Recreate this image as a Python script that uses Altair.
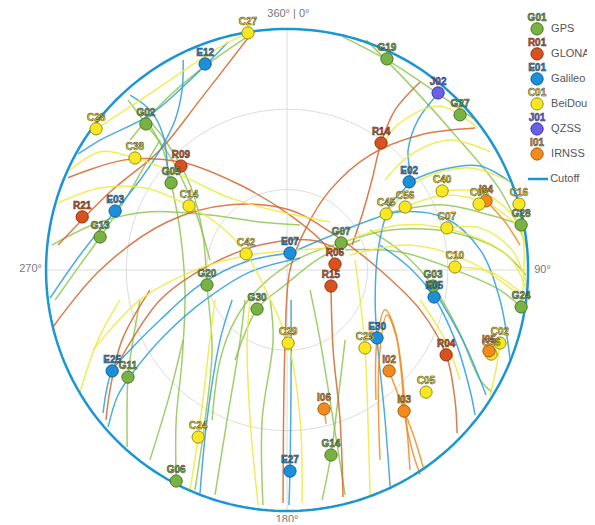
import altair as alt
import numpy as np
import pandas as pd

# ---------------- systems ----------------
SYSTEMS = ["GPS", "GLONASS", "Galileo", "BeiDou", "QZSS", "IRNSS"]
PREFIX = ["G", "R", "E", "C", "J", "I"]
LEGEND_IDS = ["G01", "R01", "E01", "C01", "J01", "I01"]
FILL = ["#77b243", "#d9521d", "#1c8fdb", "#f8e824", "#6b5fe6", "#f28b1c"]
EDGE = ["#4b7425", "#8a3210", "#0f5d94", "#9b8c12", "#3c319d", "#a6590b"]
TRACK = ["#8fc553", "#d4652b", "#2b9fd8", "#eeea3c", "#6b5fe6", "#f08c22"]
CUTOFF_COLOR = "#1a96d4"

# ---------------- satellites (east / north, degrees of zenith distance) ----------------
sat_id = ["E05", "I04", "C36",
          "G19", "G27", "G02", "G05", "G13", "G20", "G30", "G07", "G03", "G28", "G24", "G11", "G06", "G14",
          "R14", "R09", "R21", "R06", "R15", "R04",
          "E12", "E03", "E07", "E02", "E30", "E25", "E27",
          "C27", "C28", "C38", "C14", "C42", "C29", "C25", "C40", "C56", "C45", "C07", "C10", "C08", "C16",
          "C02", "C05", "C24",
          "J02",
          "I02", "I03", "I06", "I05"]
sat_east = [54.9, 74.3, 76.2,
            37.3, 64.6, -52.7, -43.3, -69.8, -29.9, -11.2, 20.2, 54.5, 87.4, 87.4, -59.4, -41.4, 16.4,
            35.1, -39.6, -76.5, 17.9, 16.4, 59.4,
            -30.6, -64.2, 1.1, 45.6, 33.6, -65.3, 1.1,
            -14.6, -71.3, -56.8, -36.6, -15.3, 0.4, 29.1, 57.9, 44.1, 37.0, 59.7, 62.7, 71.7, 86.6,
            79.5, 51.9, -33.2,
            56.4,
            38.1, 43.7, 13.8, 75.4]
sat_north = [-10.1, 25.8, -31.4,
             78.8, 57.9, 54.5, 32.5, 12.3, -5.6, -14.6, 10.1, -6.0, 16.8, -13.8, -40.0, -78.8, -69.1,
             47.4, 38.8, 19.8, 2.2, -6.0, -31.7,
             76.9, 22.0, 6.3, 32.9, -25.4, -37.7, -75.1,
             88.5, 52.7, 41.8, 23.9, 6.0, -27.3, -29.1, 29.5, 23.5, 20.9, 15.7, 1.1, 24.6, 24.6,
             -27.3, -45.6, -62.4,
             66.1,
             -37.7, -52.7, -51.9, -30.2]

# ---------------- tracks (east list, north list) ----------------
GPS_TRACKS = [
    ([20.9, 38.5, 57.1, 71.3], [87.0, 77.7, 65.3, 55.3]),
    ([29.5, 45.9, 62.7, 79.5, 88.5], [85.9, 69.1, 50.4, 29.9, 11.2]),
    ([-14.9, -32.5, -47.4, -58.6], [87.0, 74.7, 61.6, 48.5]),
    ([-51.2, -46.3, -43.3, -40.0, -38.1, -39.2, -41.4, -41.4], [54.1, 44.8, 32.5, 14.9, -7.5, -33.6, -56.0, -78.8]),
    ([-54.9, -45.6, -36.2, -31.4, -29.9, -28.0, -30.6, -34.4], [59.7, 48.5, 31.7, 13.1, -5.6, -29.9, -56.0, -82.2]),
    ([-86.6, -77.3, -69.8, -60.5, -53.0, -47.4], [-11.2, 1.9, 12.3, 26.1, 39.2, 48.5]),
    ([-87.8, -69.8, -51.2, -28.8, -10.1, 4.9], [9.3, 17.9, 21.7, 20.5, 17.9, 16.8]),
    ([20.2, 4.9, -9.3, -19.4, -25.0, -28.0], [10.1, 4.5, -5.6, -18.7, -33.6, -56.0]),
    ([20.2, 38.5, 60.9, 79.5, 89.2], [10.1, 14.9, 14.2, 7.5, -1.9]),
    ([-54.9, -57.5, -59.4, -59.7], [-11.2, -26.1, -40.0, -66.1]),
    ([-38.8, -44.4, -51.2], [-26.1, -48.5, -70.9]),
    ([-15.7, -17.5, -22.4, -26.9], [-11.2, -26.1, -56.0, -84.0]),
    ([-6.3, -5.2, -9.3, -9.0], [-11.2, -26.1, -56.0, -87.8]),
    ([8.6, 12.3, 17.2, 21.7], [-7.5, -26.1, -56.0, -84.0]),
    ([21.7, 19.0, 16.4, 13.1], [-26.1, -48.5, -69.1, -85.9]),
    ([31.0, 44.1, 54.5, 63.9, 72.1, 76.5], [14.9, 5.6, -6.0, -22.4, -41.1, -45.6]),
    ([21.7, 42.2, 64.6, 79.5, 87.4], [7.5, 6.7, -0.7, -7.5, -13.8]),
    ([34.7, 57.1, 75.8, 87.4], [20.5, 24.3, 20.5, 16.8]),
    ([-19.4, -11.2, -0.7, 12.3, 27.3], [-33.6, -14.6, -5.6, 4.5, 11.2]),
    ([-59.4, -52.7, -42.9, -34.4, -28.8], [63.5, 54.5, 41.1, 22.4, 3.7]),
]
GLONASS_TRACKS = [
    ([-85.5, -66.1, -47.4, -32.5, -14.6], [9.3, 29.1, 44.8, 63.5, 86.6]),
    ([-81.8, -60.5, -39.6, -17.5, 1.1, 14.2, 17.9], [34.4, 41.1, 40.3, 31.7, 20.5, 9.3, 2.2]),
    ([-87.4, -69.8, -44.8, -21.3, 1.1, 16.1, 34.7, 49.7, 59.4, 62.7, 63.5],
     [-21.3, 0.0, 17.9, 24.3, 22.4, 14.2, 0.0, -14.9, -31.7, -48.5, -60.9]),
    ([-62.4, -47.4, -28.8, -10.1, 8.6, 19.8], [-33.6, -11.2, 1.9, 9.3, 11.2, 7.5]),
    ([49.7, 40.3, 35.1, 31.7, 28.0, 24.3], [70.2, 59.7, 47.4, 33.6, 20.5, 9.3]),
    ([16.4, 17.2, 19.8, 20.9], [-6.0, -29.9, -56.0, -84.8]),
    ([70.2, 49.7, 31.0, 16.1, 6.7, 1.1, -0.7, -1.5], [53.0, 50.4, 42.9, 29.9, 14.9, 0.0, -26.1, -87.0]),
    ([-51.2, -61.6, -66.1, -67.6], [-7.5, -26.1, -44.8, -56.0]),
]
GALILEO_TRACKS = [
    ([-22.0, -36.2, -51.2, -69.8, -78.0], [85.1, 70.9, 57.9, 48.5, 43.3]),
    ([-88.5, -77.3, -64.2, -54.9, -47.4, -41.8, -39.2, -38.8], [-10.5, 5.6, 22.0, 33.6, 44.8, 56.0, 67.2, 78.4]),
    ([1.1, -15.7, -32.5, -47.4, -58.6, -65.3, -68.7], [6.3, 3.0, -5.6, -18.7, -29.9, -37.7, -53.4]),
    ([4.9, -13.8, -30.6, -45.6, -56.8, -63.1, -66.8], [4.5, -0.7, -11.2, -24.3, -37.3, -46.7, -58.6]),
    ([57.1, 48.9, 45.2, 45.6, 38.5, 34.0, 32.9, 33.6, 36.6, 38.5],
     [66.5, 56.0, 44.8, 32.9, 24.3, 7.5, -11.2, -25.4, -56.0, -81.0]),
    ([1.1, 16.1, 29.1, 42.2, 59.0, 72.1, 79.5, 83.3], [6.3, 12.7, 17.9, 21.7, 19.4, 7.5, -11.2, -33.6]),
    ([34.7, 45.9, 54.9, 62.7, 68.3, 70.2], [9.3, 0.7, -10.1, -26.1, -44.8, -54.1]),
    ([57.1, 66.5, 74.3], [-11.2, -28.0, -46.7]),
    ([-58.6, -51.2, -46.3, -44.4], [65.3, 59.7, 50.4, 33.6]),
    ([1.5, 1.5, 1.1, 0.7], [-11.2, -41.1, -75.1, -87.8]),
    ([-20.5, -25.0, -29.9, -32.5], [-11.2, -26.1, -56.0, -83.3]),
    ([45.6, 57.1, 72.1, 83.3], [32.9, 37.3, 38.8, 32.9]),
]
BEIDOU_TRACKS = [
    ([-14.6, -26.9, -43.7, -60.5, -71.3], [88.5, 82.2, 70.9, 59.7, 52.7]),
    ([-85.5, -69.8, -53.0, -36.6, -23.2, -15.3, -7.1, 0.4, 4.9, 5.6],
     [25.0, 30.6, 30.6, 23.9, 14.9, 6.0, -9.3, -27.3, -56.0, -87.0]),
    ([-81.0, -69.8, -56.8, -40.0, -21.3, -2.6, 16.1], [37.3, 44.1, 41.8, 35.5, 26.9, 21.7, 17.9]),
    ([-72.4, -54.9, -32.5, -13.8, 4.9, 21.7], [-29.9, -11.2, 0.7, 5.6, 7.5, 8.2]),
    ([-62.4, -70.6, -77.3], [-11.2, -26.1, -45.6]),
    ([-26.9, -28.8, -31.4, -33.2, -36.2], [-11.2, -26.1, -48.5, -62.4, -82.2]),
    ([-13.8, -14.9, -13.8, -10.8], [-11.2, -26.1, -56.0, -87.8]),
    ([25.4, 27.3, 29.1, 30.2, 31.0], [3.7, -11.2, -29.1, -56.0, -84.0]),
    ([34.7, 41.1, 57.1, 71.3], [44.8, 54.1, 61.2, 53.0]),
    ([36.6, 45.9, 60.9, 75.8], [33.6, 42.9, 48.5, 44.1]),
    ([37.0, 49.7, 68.3, 83.3], [20.9, 33.6, 38.1, 32.9]),
    ([44.1, 59.0, 75.8, 87.8], [23.5, 28.0, 24.3, 14.9]),
    ([57.9, 72.1, 84.0, 89.6], [29.5, 29.1, 20.5, 7.5]),
    ([59.7, 72.1, 84.0, 89.6], [15.7, 15.7, 7.5, -5.6]),
    ([62.7, 75.8, 87.0], [1.1, -0.7, -8.2]),
    ([20.2, 42.2, 64.6, 83.3, 89.6], [10.1, 16.8, 14.2, 4.5, -8.2]),
    ([23.5, 45.9, 68.3, 85.1], [5.6, 9.3, 3.0, -8.2]),
    ([86.6, 88.5, 87.8], [24.6, 7.5, -11.2]),
    ([79.5, 78.0, 75.8], [-27.3, -37.3, -46.7]),
    ([49.7, 59.0, 64.6], [-11.2, -26.1, -41.1]),
]
QZSS_TRACKS = []
IRNSS_TRACKS = [
    ([33.2, 33.6, 36.6, 40.3, 42.9, 43.7, 46.7, 49.7], [-48.5, -26.1, -14.9, -22.4, -41.1, -52.7, -67.2, -76.5]),
    ([34.7, 34.4, 37.3, 41.1, 44.8, 45.9], [-70.9, -33.6, -16.8, -26.1, -59.7, -74.7]),
    ([38.1, 42.2, 47.8, 50.8], [-37.7, -48.5, -63.5, -73.6]),
    ([13.8, 14.6], [-51.9, -57.5]),
    ([74.3, 81.4, 87.0], [25.8, 17.9, 9.3]),
]

GRID_RINGS = [30, 60]
CUTOFF_RING = 90

# ---------------- layout constants ----------------
W, H = 579, 514
XDOM = [-104.2, 112.0]
YDOM = [-94.1, 97.8]
FONT = "Liberation Sans"

def X(f="e"):
    return alt.X(f"{f}:Q", scale=alt.Scale(domain=XDOM, nice=False, zero=False), axis=None)

def Y(f="n"):
    return alt.Y(f"{f}:Q", scale=alt.Scale(domain=YDOM, nice=False, zero=False), axis=None)

sys_of = dict(zip(PREFIX, SYSTEMS))
fill_scale = alt.Scale(domain=SYSTEMS, range=FILL)
edge_scale = alt.Scale(domain=SYSTEMS, range=EDGE)
track_scale = alt.Scale(domain=SYSTEMS, range=TRACK)

# ---------------- data frames ----------------
rows = []
for sysname, tracks in zip(SYSTEMS, [GPS_TRACKS, GLONASS_TRACKS, GALILEO_TRACKS, BEIDOU_TRACKS, QZSS_TRACKS, IRNSS_TRACKS]):
    for k, (es, ns) in enumerate(tracks):
        for i, (e, n) in enumerate(zip(es, ns)):
            rows.append({"track": f"{sysname}-{k}", "system": sysname, "i": i, "e": e, "n": n})
tracks_df = pd.DataFrame(rows)

sats_df = pd.DataFrame({"id": sat_id, "e": sat_east, "n": sat_north})
sats_df["system"] = sats_df["id"].str[0].map(sys_of)
sats_df["order"] = range(len(sats_df))

ang = np.linspace(0, 2 * np.pi, 241)
grid_rows = []
for r in GRID_RINGS:
    for i, a in enumerate(ang):
        grid_rows.append({"g": f"ring{r}", "i": i, "e": r * np.sin(a), "n": r * np.cos(a)})
grid_rows += [{"g": "h", "i": 0, "e": -CUTOFF_RING, "n": 0}, {"g": "h", "i": 1, "e": CUTOFF_RING, "n": 0},
              {"g": "v", "i": 0, "e": 0, "n": -CUTOFF_RING}, {"g": "v", "i": 1, "e": 0, "n": CUTOFF_RING}]
grid_df = pd.DataFrame(grid_rows)

cut_df = pd.DataFrame({"i": range(len(ang)), "e": CUTOFF_RING * np.sin(ang), "n": CUTOFF_RING * np.cos(ang)})

dir_df = pd.DataFrame({
    "t": ["360° | 0°", "90°", "180°", "270°"],
    "e": [0.5, CUTOFF_RING + 2.3, 0.0, -CUTOFF_RING - 1.5],
    "n": [CUTOFF_RING + 5.5, 0.0, -CUTOFF_RING - 1.0, 0.3],
    "al": ["center", "left", "center", "right"],
    "bl": ["middle", "middle", "top", "middle"],
})

LEG_X, LEG_TX, LEG_TOP, LEG_STEP = 93.35, 98.6, 90.0, 9.34
leg_df = pd.DataFrame({
    "system": SYSTEMS, "id": LEGEND_IDS,
    "e": [LEG_X] * 6, "te": [LEG_TX] * 6,
    "n": [LEG_TOP - k * LEG_STEP for k in range(6)],
})
cut_leg_n = LEG_TOP - 6 * LEG_STEP
cut_leg_df = pd.DataFrame({"e": [LEG_X - 3.4, LEG_X + 4.1], "n": [cut_leg_n, cut_leg_n], "i": [0, 1]})
cut_leg_txt = pd.DataFrame({"e": [LEG_X + 4.9], "n": [cut_leg_n], "t": ["Cutoff"]})

# ---------------- layers ----------------
grid = alt.Chart(grid_df).mark_line(color="#dcdcdc", strokeWidth=1).encode(
    x=X(), y=Y(), detail="g:N", order="i:Q")

track_lines = alt.Chart(tracks_df).mark_line(interpolate="catmull-rom", strokeWidth=1.5, opacity=0.85).encode(
    x=X(), y=Y(), detail="track:N", order="i:Q",
    color=alt.Color("system:N", scale=track_scale, legend=None))

cutoff = alt.Chart(cut_df).mark_line(color=CUTOFF_COLOR, strokeWidth=2.5).encode(x=X(), y=Y(), order="i:Q")

markers = alt.Chart(sats_df).mark_point(shape="circle", filled=True, size=150, strokeWidth=1, opacity=1).encode(
    x=X(), y=Y(), order="order:Q",
    fill=alt.Fill("system:N", scale=fill_scale, legend=None),
    stroke=alt.Stroke("system:N", scale=edge_scale, legend=None))

labels = alt.Chart(sats_df).mark_text(dy=-11, fontSize=10, fontWeight="bold", font=FONT,
                                      stroke="#333333", strokeWidth=0.5).encode(
    x=X(), y=Y(), text="id:N", order="order:Q",
    fill=alt.Fill("system:N", scale=fill_scale, legend=None))

dirs = []
for _, row in dir_df.iterrows():
    dirs.append(alt.Chart(dir_df[dir_df.t == row.t]).mark_text(
        fontSize=11, font=FONT, color="#777777", align=row.al, baseline=row.bl).encode(x=X(), y=Y(), text="t:N"))

leg_marks = alt.Chart(leg_df).mark_point(shape="circle", filled=True, size=150, strokeWidth=1, opacity=1).encode(
    x=X(), y=Y(),
    fill=alt.Fill("system:N", scale=fill_scale, legend=None),
    stroke=alt.Stroke("system:N", scale=edge_scale, legend=None))
leg_ids = alt.Chart(leg_df).mark_text(dy=-11, fontSize=10, fontWeight="bold", font=FONT,
                                      stroke="#333333", strokeWidth=0.5).encode(
    x=X(), y=Y(), text="id:N",
    fill=alt.Fill("system:N", scale=fill_scale, legend=None))
leg_names = alt.Chart(leg_df).mark_text(align="left", baseline="middle", fontSize=11, font=FONT,
                                        color="#555555").encode(x=X("te"), y=Y(), text="system:N")
leg_cut = alt.Chart(cut_leg_df).mark_line(color=CUTOFF_COLOR, strokeWidth=2.5).encode(x=X(), y=Y(), order="i:Q")
leg_cut_t = alt.Chart(cut_leg_txt).mark_text(align="left", baseline="middle", fontSize=11, font=FONT,
                                             color="#555555").encode(x=X(), y=Y(), text="t:N")

chart = alt.layer(grid, track_lines, cutoff, markers, labels, *dirs,
                  leg_marks, leg_ids, leg_names, leg_cut, leg_cut_t).properties(
    width=W, height=H, autosize=alt.AutoSizeParams(type="none"), padding=0
).configure_view(stroke=None)

chart.save("out.html", embed_options={"renderer": "svg", "actions": False})
